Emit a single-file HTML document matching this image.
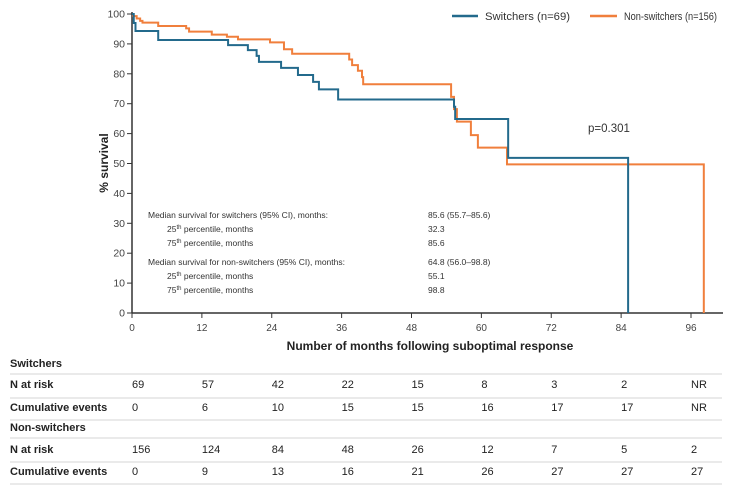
<!DOCTYPE html>
<html><head><meta charset="utf-8"><style>
body{margin:0;background:#fff;font-family:"Liberation Sans",Arial,sans-serif}
svg text{font-family:"Liberation Sans",Arial,sans-serif}
</style></head><body>
<svg width="735" height="488" viewBox="0 0 735 488" id="c">
<g id="axes"></g>
<g id="series"></g>
<g>
<line x1="452" y1="16" x2="478" y2="16" stroke="#236a8c" stroke-width="2.5"/>
<text x="485" y="20" font-size="11" fill="#333" textLength="85" lengthAdjust="spacingAndGlyphs">Switchers (n=69)</text>
<line x1="590" y1="16" x2="617" y2="16" stroke="#f07f3c" stroke-width="2.5"/>
<text x="624" y="20" font-size="11" fill="#333" textLength="93" lengthAdjust="spacingAndGlyphs">Non-switchers (n=156)</text>
</g>
<text x="588" y="132" font-size="11.5" fill="#333">p=0.301</text>
<g font-size="8.5" fill="#333">
<text x="148" y="218">Median survival for switchers (95% CI), months:</text>
<text x="428" y="218">85.6 (55.7–85.6)</text>
<text x="167" y="232">25<tspan font-size="6" dy="-3">th</tspan><tspan dy="3"> percentile, months</tspan></text>
<text x="428" y="232">32.3</text>
<text x="167" y="246">75<tspan font-size="6" dy="-3">th</tspan><tspan dy="3"> percentile, months</tspan></text>
<text x="428" y="246">85.6</text>
<text x="148" y="265">Median survival for non-switchers (95% CI), months:</text>
<text x="428" y="265">64.8 (56.0–98.8)</text>
<text x="167" y="279">25<tspan font-size="6" dy="-3">th</tspan><tspan dy="3"> percentile, months</tspan></text>
<text x="428" y="279">55.1</text>
<text x="167" y="293">75<tspan font-size="6" dy="-3">th</tspan><tspan dy="3"> percentile, months</tspan></text>
<text x="428" y="293">98.8</text>
</g>
<text x="430" y="350" font-size="12" font-weight="bold" fill="#222" text-anchor="middle">Number of months following suboptimal response</text>
<text transform="translate(108,163) rotate(-90)" font-size="12" font-weight="bold" fill="#222" text-anchor="middle">% survival</text>
<g id="table"></g>
</svg>
<script>
const xTicks=[0,12,24,36,48,60,72,84,96];
const yTicks=[0,10,20,30,40,50,60,70,80,90,100];
const swT=[0,0.3,0.6,4.5,16.5,19.9,21.4,21.8,25.6,28.5,31.1,32.1,35.4,55.3,55.5,64.6,85.2];
const swS=[100,97,94.3,91.3,89.6,87.9,86,84,82,79.6,77.3,74.8,71.4,69,64.9,51.9,0];
const nsT=[0,0.2,0.8,1.4,1.8,4.5,9.3,9.8,13.7,16.3,18.2,23.7,26.1,27.5,37.3,37.8,38.8,39.5,39.7,54.8,55.3,55.8,58.2,59.4,64.4,98.2];
const nsS=[100,99.3,98.5,97.7,97.1,96,95.2,94.1,93.1,92.4,91.5,90.5,88.2,86.7,84.8,82.9,81,78.9,76.5,72.3,68.2,64,59.5,55.3,49.7,0];
const swRisk=["69","57","42","22","15","8","3","2","NR"];
const swEvents=["0","6","10","15","15","16","17","17","NR"];
const nsRisk=["156","124","84","48","26","12","7","5","2"];
const nsEvents=["0","9","13","16","21","26","27","27","27"];
const NS="http://www.w3.org/2000/svg";
const X=m=>132+m*(559/96), Y=v=>313-v*2.99;
function mk(t,a,p){const e=document.createElementNS(NS,t);for(const k in a)e.setAttribute(k,a[k]);p.appendChild(e);return e;}
const ax=document.getElementById('axes');
let e=mk('line',{x1:132,y1:Y(100)-2,x2:132,y2:313,stroke:'#333','stroke-width':1.5},ax);


e=mk('line',{x1:132,y1:313,x2:723,y2:313,stroke:'#333','stroke-width':1.5},ax);


xTicks.forEach(t=>{mk('line',{x1:X(t),y1:313,x2:X(t),y2:318,stroke:'#333'},ax);
 const tx=mk('text',{x:X(t),y:331,'font-size':10,fill:'#444','text-anchor':'middle'},ax);tx.textContent=t;
 
 });
yTicks.forEach(t=>{mk('line',{x1:127,y1:Y(t),x2:132,y2:Y(t),stroke:'#333'},ax);
 const tx=mk('text',{x:125,y:Y(t)+3.5,'font-size':10.5,fill:'#444','text-anchor':'end'},ax);tx.textContent=t;
 
 });
function step(T,S){let d='M'+X(T[0])+','+Y(S[0]);for(let i=1;i<T.length;i++){d+='H'+X(T[i])+'V'+Y(S[i]);}return d;}
const sg=document.getElementById('series');
e=mk('path',{d:step(nsT,nsS),fill:'none',stroke:'#f07f3c','stroke-width':2},sg);


e=mk('path',{d:step(swT,swS),fill:'none',stroke:'#236a8c','stroke-width':2},sg);


const tb=document.getElementById('table');
function txt(x,y,s,b,n){const t=mk('text',{x:x,y:y,'font-size':11,fill:'#222','font-weight':b?'bold':'normal'},tb);t.textContent=s;
 
 }
function hl(y){const l=mk('line',{x1:10,y1:y,x2:722,y2:y,stroke:'#ddd','stroke-width':1.2},tb);
 
 }
txt(10,367,'Switchers',true,'switchers-header');hl(374);
txt(10,388,'N at risk',true,'row-label');hl(398);
txt(10,411,'Cumulative events',true,'row-label');hl(420);
txt(10,431,'Non-switchers',true,'nonswitchers-header');hl(438);
txt(10,453,'N at risk',true,'row-label');hl(462);
txt(10,475,'Cumulative events',true,'row-label');hl(484);
[[swRisk,388],[swEvents,411],[nsRisk,453],[nsEvents,475]].forEach(([arr,y])=>arr.forEach((v,i)=>txt(X(xTicks[i]),y,v,false,'table-cell')));
</script>
</body></html>
